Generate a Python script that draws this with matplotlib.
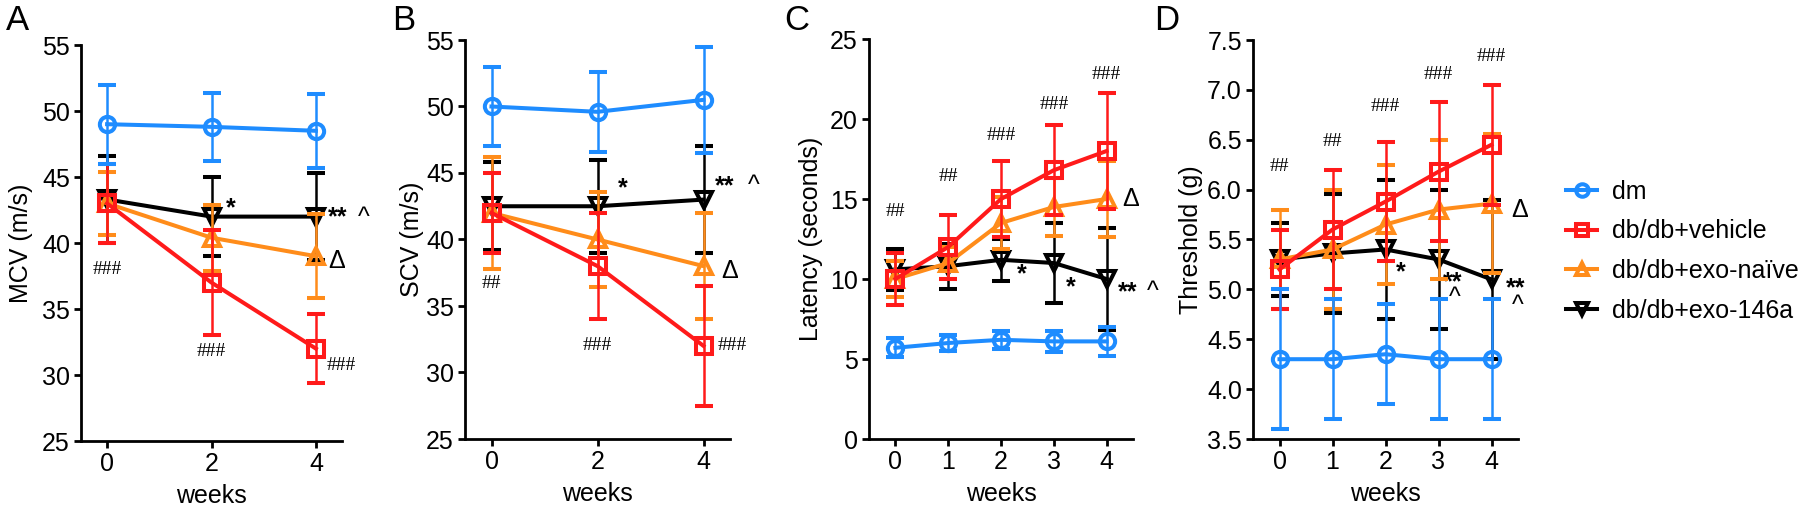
import matplotlib
matplotlib.use("Agg")
import matplotlib.pyplot as plt
from matplotlib.lines import Line2D

plt.rcParams['font.family'] = ['Liberation Sans', 'DejaVu Sans']

# ---- data ----
weeks_ab = [0, 2, 4]
weeks_cd = [0, 1, 2, 3, 4]

groups = ['dm', 'db/db+vehicle', 'db/db+exo-naïve', 'db/db+exo-146a']
colors = ['#1E8CFF', '#FF1A1A', '#FF8C1A', '#000000']
markers = ['o', 's', '^', 'v']

mcv_mean = [[49.0, 48.8, 48.5], [43.0, 37.0, 32.0], [43.0, 40.4, 39.0], [43.3, 42.0, 42.0]]
mcv_err = [[3.0, 2.6, 2.8], [3.0, 4.0, 2.6], [2.4, 2.5, 3.2], [3.3, 3.0, 3.3]]

scv_mean = [[50.0, 49.6, 50.5], [42.0, 38.0, 32.0], [42.0, 40.0, 38.0], [42.5, 42.5, 43.0]]
scv_err = [[3.0, 3.0, 4.0], [3.0, 4.0, 4.5], [4.2, 3.6, 4.0], [3.3, 3.5, 4.0]]

lat_mean = [[5.7, 6.0, 6.2, 6.1, 6.1], [10.0, 12.0, 15.0, 16.8, 18.0],
            [10.0, 11.0, 13.5, 14.5, 15.0], [10.6, 10.8, 11.2, 11.0, 10.0]]
lat_err = [[0.6, 0.5, 0.55, 0.65, 0.9], [1.6, 2.0, 2.4, 2.8, 3.6],
           [1.1, 1.0, 1.6, 1.8, 2.4], [1.3, 1.4, 1.3, 2.5, 3.2]]

thr_mean = [[4.3, 4.3, 4.35, 4.3, 4.3], [5.2, 5.6, 5.88, 6.18, 6.45],
            [5.3, 5.4, 5.65, 5.8, 5.86], [5.3, 5.36, 5.4, 5.3, 5.1]]
thr_err = [[0.7, 0.6, 0.5, 0.6, 0.6], [0.4, 0.6, 0.6, 0.7, 0.6],
           [0.5, 0.6, 0.6, 0.7, 0.7], [0.37, 0.6, 0.7, 0.7, 0.8]]

# significance marks: (x, y, text)
hash_a = [(0, 38.0, '###'), (2, 31.8, '###'), (4.48, 30.7, '###')]
star_a = [(2.27, 43.0, '*'), (4.23, 42.3, '**'), (4.8, 42.3, '^'), (4.23, 38.6, 'Δ')]
hash_b = [(0, 36.7, '##'), (2, 32.0, '###'), (4.55, 32.0, '###')]
star_b = [(2.38, 44.2, '*'), (4.21, 44.4, '**'), (4.83, 44.4, '^'), (4.34, 37.6, 'Δ')]
hash_c = [(0, 14.2, '##'), (1, 16.4, '##'), (2, 19.0, '###'), (3, 20.9, '###'), (4, 22.8, '###')]
star_c = [(2.30, 10.6, '*'), (3.23, 9.8, '*'), (4.21, 9.5, '**'), (4.77, 9.5, '^'),
          (4.30, 15.0, 'Δ')]
hash_d = [(0, 6.23, '##'), (1, 6.48, '##'), (2, 6.83, '###'), (3, 7.15, '###'), (4, 7.33, '###')]
star_d = [(2.2, 5.22, '*'), (3.08, 5.12, '**'), (3.2, 4.96, '^'), (4.28, 5.06, '**'),
          (4.38, 4.88, '^'), (4.38, 5.8, 'Δ')]

panels = [
    ('A', weeks_ab, mcv_mean, mcv_err, 'MCV (m/s)', (25, 55), range(25, 56, 5), hash_a, star_a),
    ('B', weeks_ab, scv_mean, scv_err, 'SCV (m/s)', (25, 55), range(25, 56, 5), hash_b, star_b),
    ('C', weeks_cd, lat_mean, lat_err, 'Latency (seconds)', (0, 25), range(0, 26, 5), hash_c, star_c),
    ('D', weeks_cd, thr_mean, thr_err, 'Threshold (g)', (3.5, 7.5),
     [3.5, 4.0, 4.5, 5.0, 5.5, 6.0, 6.5, 7.0, 7.5], hash_d, star_d),
]

W, H = 1800, 511
fig = plt.figure(figsize=(W / 100, H / 100), dpi=100)

# axes boxes in pixels: left, right, bottom, top
boxes = [(81, 342, 441, 45), (465, 730, 439, 40), (869, 1133, 439, 39), (1253, 1518, 439, 40)]
letter_x = [17, 404, 797, 1167]
label_right = [33, 424, 823, 1203]   # right edge of the rotated y label

draw_order = [3, 2, 1, 0]

for k, (letter, xs, means, errs, ylab, ylim, yticks, hashes, stars) in enumerate(panels):
    l, r, b, t = boxes[k]
    ax = fig.add_axes([l / W, 1 - b / H, (r - l) / W, (b - t) / H])
    for i in draw_order:
        ax.errorbar(xs, means[i], yerr=errs[i], color=colors[i], lw=2.9,
                    marker=markers[i], ms=11, mfc='none', mew=2.9,
                    elinewidth=1.8, capsize=6.5, capthick=1.8, zorder=3 + (3 - i) * 0.1,
                    clip_on=False)
    ax.set_xlim(-0.5, 4.5)
    ax.set_ylim(*ylim)
    ax.set_xticks(xs)
    ax.set_yticks(list(yticks))
    if letter == 'D':
        ax.set_yticklabels(['%.1f' % v for v in yticks])
    for s in ['top', 'right']:
        ax.spines[s].set_visible(False)
    for s in ['left', 'bottom']:
        ax.spines[s].set_linewidth(2.0)
    ax.tick_params(width=2.0, length=5, labelsize=18, pad=3)
    ax.set_xlabel('weeks', fontsize=18, labelpad=6)
    ax.set_ylabel(ylab, fontsize=18)
    ax.yaxis.set_label_coords((label_right[k] - l) / (r - l), 0.5)
    fig.text(letter_x[k] / W, 1 - 21 / H, letter, fontsize=25, ha='center', va='center')

    for x, y, s in hashes:
        ax.text(x, y, s, fontsize=14, family=['Liberation Serif', 'DejaVu Serif'],
                ha='center', va='center')
    for x, y, s in stars:
        if s == 'Δ':
            ax.text(x, y, s, fontsize=18, ha='left', va='center')
        else:
            # '*' and '^' sit high in the line box, pull them down a little
            ax.annotate(s, (x, y), xytext=(0, -5), textcoords='offset pixels',
                        fontsize=18, ha='left', va='center', annotation_clip=False,
                        fontweight='bold' if '*' in s else 'normal')

handles = [Line2D([], [], color=colors[i], lw=2.9, marker=markers[i], ms=9,
                  mfc='none', mew=2.9) for i in range(4)]
fig.legend(handles, groups, loc='upper left', bbox_to_anchor=(1566 / W, 1 - 180 / H),
           frameon=False, fontsize=18, handlelength=1.25, handletextpad=0.6,
           labelspacing=0.62, borderpad=0, borderaxespad=0)

fig.savefig('out.png', dpi=100)
